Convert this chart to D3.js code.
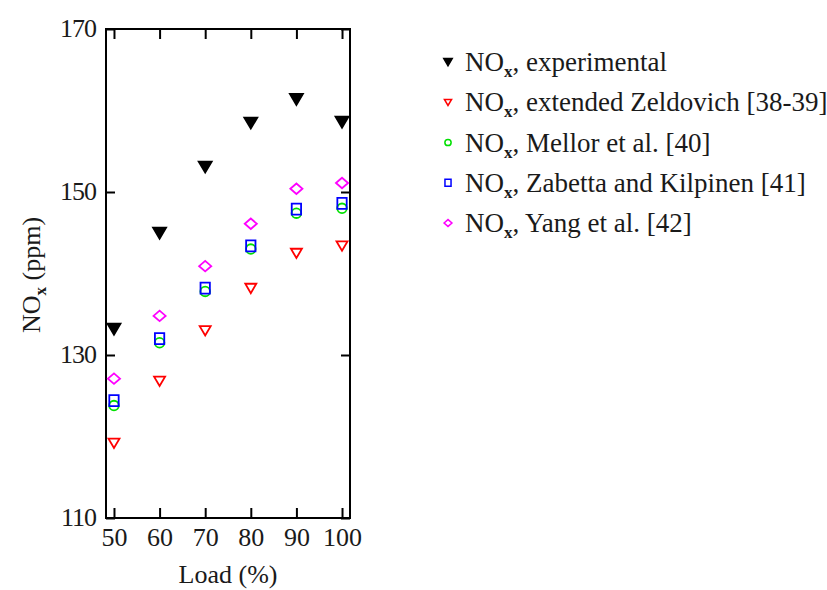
<!DOCTYPE html>
<html>
<head>
<meta charset="utf-8">
<script src="https://cdn.jsdelivr.net/npm/d3@7"></script>
<style>
  body { margin: 0; background: #fff; }
  svg { display: block; }
</style>
</head>
<body>
<div id="chart"></div>
<script>
const loads = [50, 60, 70, 80, 90, 100]
const experimental = [133.2, 145.0, 153.1, 158.5, 161.4, 158.6]
const zeldovich = [119.2, 126.8, 133.0, 138.2, 142.5, 143.4]
const mellor = [123.8, 131.5, 137.8, 143.0, 147.4, 148.0]
const zabetta = [124.4, 132.0, 138.2, 143.4, 147.9, 148.6]
const yang = [127.1, 134.8, 140.9, 146.1, 150.4, 151.1]
const yTicks = [110, 130, 150, 170]

const seriesNames = [
  'experimental',
  'extended Zeldovich [38-39]',
  'Mellor et al. [40]',
  'Zabetta and Kilpinen [41]',
  'Yang et al. [42]'
]

const width = 827
const height = 590
const margin = { top: 29, right: 477, bottom: 72, left: 106 }
const serif = "'Liberation Serif', 'Times New Roman', serif"

// marker shapes, r = half size
const shapes = {
  triDown: r => `M${-r},${-r * 0.8}L${r},${-r * 0.8}L0,${r * 0.9}Z`,
  circle: r => `M${r},0A${r},${r} 0 1,1 ${-r},0A${r},${r} 0 1,1 ${r},0Z`,
  square: r => `M${-r * 0.85},${-r}H${r * 0.85}V${r}H${-r * 0.85}Z`,
  diamond: r => `M${-r * 1.1},0L0,${-r * 0.95}L${r * 1.1},0L0,${r * 0.95}Z`
}

const series = [
  { values: experimental, color: '#000', shape: 'triDown', filled: true, r: 6.5 },
  { values: zeldovich, color: '#ff0000', shape: 'triDown', filled: false, r: 5.5 },
  { values: mellor, color: '#00e000', shape: 'circle', filled: false, r: 4.8 },
  { values: zabetta, color: '#0000ff', shape: 'square', filled: false, r: 5.5 },
  { values: yang, color: '#ff00ff', shape: 'diamond', filled: false, r: 5.5 }
]

const svg = d3.select('#chart')
  .append('svg')
  .attr('width', width)
  .attr('height', height)
  .style('font-family', serif)

const x = d3.scaleLinear()
  .domain([48.25, 101.75])
  .range([margin.left, width - margin.right])

const y = d3.scaleLinear()
  .domain([110, 170])
  .range([height - margin.bottom, margin.top])

const plotW = width - margin.right - margin.left
const plotH = height - margin.bottom - margin.top
const fontSize = 26
const textColor = '#1a1a1a'

// frame
svg.append('rect')
  .attr('x', margin.left)
  .attr('y', margin.top)
  .attr('width', plotW)
  .attr('height', plotH)
  .attr('fill', 'none')
  .attr('stroke', '#000')
  .attr('stroke-width', 2)

// axes, ticks pointing inward
const xBottom = svg.append('g')
  .attr('transform', `translate(0,${y(110)})`)
  .call(d3.axisBottom(x).tickValues(loads).tickSizeInner(-10).tickSizeOuter(0).tickPadding(10))
const xTop = svg.append('g')
  .attr('transform', `translate(0,${y(170)})`)
  .call(d3.axisTop(x).tickValues(loads).tickSizeInner(-10).tickSizeOuter(0).tickFormat(''))
const yLeft = svg.append('g')
  .attr('transform', `translate(${x(48.25)},0)`)
  .call(d3.axisLeft(y).tickValues(yTicks).tickSizeInner(-9).tickSizeOuter(0).tickPadding(10))
const yRight = svg.append('g')
  .attr('transform', `translate(${x(101.75)},0)`)
  .call(d3.axisRight(y).tickValues(yTicks).tickSizeInner(-9).tickSizeOuter(0).tickFormat(''))

;[xBottom, xTop, yLeft, yRight].forEach(g => {
  g.attr('font-family', serif).attr('font-size', fontSize)
  g.select('.domain').remove()
  g.selectAll('line').attr('stroke', '#000').attr('stroke-width', 2)
  g.selectAll('text').attr('fill', textColor)
})
xBottom.selectAll('text').attr('dy', '0.71em')
yLeft.selectAll('text').attr('dy', '0.3em').attr('letter-spacing', -1)

// points
series.forEach(s => {
  svg.append('g')
    .selectAll('path')
    .data(s.values)
    .join('path')
    .attr('transform', (d, i) => `translate(${x(loads[i])},${y(d)})`)
    .attr('d', shapes[s.shape](s.r))
    .attr('fill', s.filled ? s.color : 'none')
    .attr('stroke', s.color)
    .attr('stroke-width', 1.8)
})

// axis titles
svg.append('text')
  .attr('x', (margin.left + width - margin.right) / 2)
  .attr('y', 583)
  .attr('text-anchor', 'middle')
  .attr('font-size', fontSize)
  .attr('fill', textColor)
  .text('Load (%)')

const yTitle = svg.append('text')
  .attr('text-anchor', 'middle')
  .attr('transform', 'translate(40,275) rotate(-90)')
  .attr('font-size', fontSize)
  .attr('fill', textColor)
yTitle.append('tspan').text('NO')
yTitle.append('tspan').attr('dy', 6).attr('font-size', 17).attr('font-weight', 'bold').text('x')
yTitle.append('tspan').attr('dy', -6).text(' (ppm)')

// legend
const legend = svg.append('g')
const rowY = d3.scalePoint().domain(d3.range(seriesNames.length)).range([62, 223])

series.forEach((s, i) => {
  const row = legend.append('g')
    .attr('transform', `translate(448,${rowY(i)})`)
  row.append('path')
    .attr('d', shapes[s.shape](s.r * 0.65))
    .attr('fill', s.filled ? s.color : 'none')
    .attr('stroke', s.color)
    .attr('stroke-width', 1.5)
  const t = row.append('text')
    .attr('x', 17)
    .attr('y', 9)
    .attr('font-size', 27)
    .attr('fill', textColor)
  t.append('tspan').text('NO')
  t.append('tspan').attr('dy', 6).attr('font-size', 17).attr('font-weight', 'bold').text('x')
  t.append('tspan').attr('dy', -6).text(', ' + seriesNames[i])
})
</script>
</body>
</html>
